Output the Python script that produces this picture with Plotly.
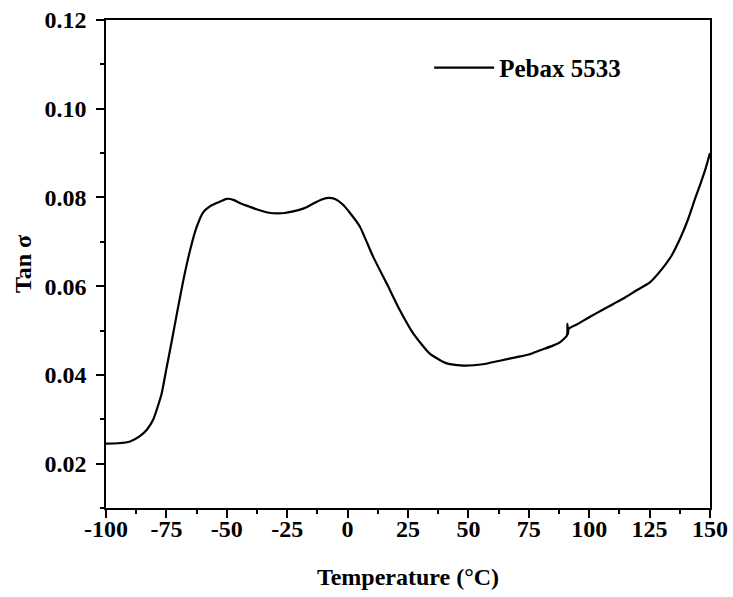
import plotly.graph_objects as go

temperature = [-100, -95, -90, -86, -83, -80.4, -77, -75, -72.8, -70.7, -68, -65.2, -62.5, -59.7,
               -57, -54, -50, -47, -44.5, -41, -38, -35, -32, -29, -26, -23, -20, -17, -14, -11,
               -8, -5, -2, 1, 5, 10.6, 16.2, 21.7, 27.2, 34, 41, 48, 56, 63, 70, 75, 80, 85, 88,
               90.8, 91.0, 91.2, 91.5, 95, 100, 105, 110, 115, 120, 125, 130, 134, 138, 141, 144,
               146, 148, 150]
tan_delta = [0.0245, 0.0246, 0.0250, 0.0262, 0.0277, 0.0300, 0.0357, 0.0414, 0.0476, 0.0537,
             0.0613, 0.0681, 0.0733, 0.0767, 0.0780, 0.0788, 0.0797, 0.0794, 0.0787, 0.0780,
             0.0774, 0.0769, 0.0765, 0.0764, 0.0765, 0.0768, 0.0772, 0.0778, 0.0787, 0.0795,
             0.0799, 0.0796, 0.0784, 0.0765, 0.0735, 0.0666, 0.0606, 0.0545, 0.0493, 0.0448,
             0.0426, 0.0421, 0.0424, 0.0432, 0.0440, 0.0446, 0.0456, 0.0466, 0.0474, 0.0489,
             0.0515, 0.0492, 0.0504, 0.0514, 0.0530, 0.0545, 0.0560, 0.0575, 0.0592, 0.0608,
             0.0638, 0.0668, 0.0712, 0.0752, 0.0800, 0.0830, 0.0862, 0.0900]

series_name = "Pebax 5533"
x_ticks = [-100, -75, -50, -25, 0, 25, 50, 75, 100, 125, 150]
y_ticks = [0.02, 0.04, 0.06, 0.08, 0.10, 0.12]

font_family = "Liberation Serif"

fig = go.Figure()
fig.add_trace(go.Scatter(
    x=temperature, y=tan_delta, mode="lines", name=series_name,
    line=dict(color="black", width=2.2, shape="spline", smoothing=0.5),
))

axis_common = dict(
    showgrid=False, zeroline=False, showline=True, linecolor="black", linewidth=1.5,
    mirror=True, ticks="outside", ticklen=8, tickwidth=1.5, tickcolor="black",
    automargin=False, ticklabeloverflow="allow",
    tickfont=dict(family=font_family, size=24, color="black", weight="bold"),
)

fig.update_xaxes(
    range=[-100, 150], tickvals=x_ticks, ticktext=[str(v) for v in x_ticks],
    minor=dict(ticks="outside", ticklen=4, tickwidth=1.5, tickcolor="black", dtick=12.5, tick0=-100),
    ticklabelstandoff=-10,
    title=dict(text="Temperature (°C)", font=dict(family=font_family, size=24, color="black", weight="bold"),
               standoff=28),
    **axis_common,
)
fig.update_yaxes(
    range=[0.01, 0.12], tickvals=y_ticks, ticktext=[f"{v:.2f}" for v in y_ticks],
    minor=dict(ticks="outside", ticklen=4, tickwidth=1.5, tickcolor="black", dtick=0.01, tick0=0.01),
    ticklabelstandoff=5,
    title=dict(text="Tan σ", font=dict(family=font_family, size=24, color="black", weight="bold"),
               standoff=6),
    **axis_common,
)

fig.update_layout(
    width=733, height=597,
    margin=dict(l=106, r=23, t=20, b=89),
    plot_bgcolor="white", paper_bgcolor="white",
    showlegend=True,
    legend=dict(x=0.535, y=0.902, xanchor="left", yanchor="middle", bgcolor="rgba(0,0,0,0)",
                font=dict(family=font_family, size=25, color="black", weight="bold"),
                itemwidth=60),
)

fig.write_html("out.html", config={"displayModeBar": False},
               post_script="document.body.style.margin='0';")
